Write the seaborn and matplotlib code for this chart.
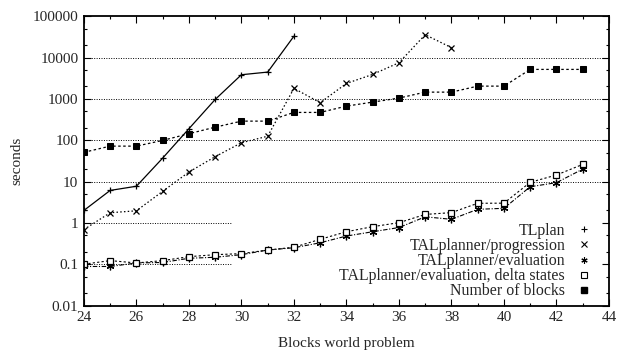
import numpy as np
import pandas as pd
import matplotlib
matplotlib.use('Agg')
import matplotlib.pyplot as plt
from matplotlib.lines import Line2D
from matplotlib.ticker import LogLocator, FixedLocator, MultipleLocator, NullFormatter
import seaborn as sns

# data
tlplan_x = [24, 25, 26, 27, 28, 29, 30, 31, 32]
tlplan_y = [2.0, 6.1, 7.7, 37, 190, 970, 3850, 4460, 33000]

prog_x = list(range(24, 39))
prog_y = [0.69, 1.76, 1.96, 5.8, 17, 40, 87, 125, 1800, 810, 2370, 3920, 7520, 35800, 17400]

eval_x = list(range(24, 44))
eval_y = [0.088, 0.088, 0.107, 0.11, 0.139, 0.147, 0.17, 0.22, 0.25, 0.33,
          0.48, 0.61, 0.77, 1.4, 1.22, 2.13, 2.25, 7.5, 9.4, 20]

delta_x = list(range(24, 44))
delta_y = [0.1, 0.122, 0.107, 0.122, 0.152, 0.17, 0.18, 0.22, 0.257, 0.40,
           0.61, 0.81, 1.01, 1.6, 1.77, 2.98, 3.0, 9.6, 14.4, 26]

blocks_x = list(range(24, 44))
blocks_y = [51, 72, 72, 99, 144, 207, 290, 290, 471, 471,
            670, 837, 1047, 1460, 1460, 2040, 2040, 5180, 5180, 5180]

labels = ['TLplan', 'TALplanner/progression', 'TALplanner/evaluation',
          'TALplanner/evaluation, delta states', 'Number of blocks']

sns.set_style('ticks')
plt.rcParams['font.family'] = ['Liberation Serif', 'DejaVu Serif']

fig = plt.figure(figsize=(6.17, 3.54), dpi=100)
ax = fig.add_axes([0.136, 0.137, 0.851, 0.817])

# grid lines (partly hidden by the key in the original)
for v in [10, 100, 1000, 10000]:
    ax.hlines(v, 24, 44, colors='black', linestyles=(0, (1, 1.5)), linewidth=0.7)
for v in [0.1, 1]:
    ax.hlines(v, 24, 29.6, colors='black', linestyles=(0, (1, 1.5)), linewidth=0.7)

asterisk = (6, 2, 0)

sns.lineplot(x=tlplan_x, y=tlplan_y, ax=ax, color='black', linewidth=0.9,
             linestyle='-', marker='+', markersize=5, markeredgecolor='black', markeredgewidth=0.9)
sns.lineplot(x=prog_x, y=prog_y, ax=ax, color='black', linewidth=0.9,
             linestyle=(0, (1.2, 1.8)), marker='x', markersize=4.5, markeredgecolor='black',
             markeredgewidth=0.9)
sns.lineplot(x=eval_x, y=eval_y, ax=ax, color='black', linewidth=0.8,
             linestyle=(0, (4, 1.5, 1, 1.5)), marker=asterisk, markersize=5.5,
             markeredgecolor='black', markeredgewidth=0.9)
sns.lineplot(x=delta_x, y=delta_y, ax=ax, color='black', linewidth=0.8,
             linestyle=(0, (2, 2)), marker='s', markersize=4, markerfacecolor='white',
             markeredgecolor='black', markeredgewidth=0.9)
sns.lineplot(x=blocks_x, y=blocks_y, ax=ax, color='black', linewidth=0.9,
             linestyle=(0, (2, 2)), marker='s', markersize=4.8, markerfacecolor='black',
             markeredgecolor='black')

ax.set_yscale('log')
ax.set_xlim(24, 44)
ax.set_ylim(0.01, 100000)
ax.xaxis.set_major_locator(MultipleLocator(2))
ax.xaxis.set_minor_locator(MultipleLocator(1))
ax.yaxis.set_major_locator(FixedLocator([0.01, 0.1, 1, 10, 100, 1000, 10000, 100000]))
ax.yaxis.set_minor_locator(LogLocator(base=10, subs=[2, 5], numticks=20))
ax.yaxis.set_minor_formatter(NullFormatter())
ax.set_yticklabels(['0.01', '0.1', '1', '10', '100', '1000', '10000', '100000'])

ax.tick_params(which='both', direction='in', top=True, right=True, labelsize=11, color='black')
ax.tick_params(which='major', length=5, width=0.8, pad=4)
ax.tick_params(which='minor', length=2.5, width=0.8)
for s in ax.spines.values():
    s.set_linewidth(1.3)
    s.set_color('black')

ax.set_xlabel('Blocks world problem', fontsize=11, labelpad=9)
ax.set_ylabel('seconds', fontsize=11, labelpad=7)

handles = [
    Line2D([], [], color='black', linestyle='none', marker='+', markersize=4.5, markeredgewidth=0.8),
    Line2D([], [], color='black', linestyle='none', marker='x', markersize=4, markeredgewidth=0.8),
    Line2D([], [], color='black', linestyle='none', marker=asterisk, markersize=4.5, markeredgewidth=0.8),
    Line2D([], [], color='black', linestyle='none', marker='s', markersize=4, markerfacecolor='white',
           markeredgewidth=0.8),
    Line2D([], [], color='black', linestyle='none', marker='s', markersize=4.8),
]
leg = ax.legend(handles, labels, loc='lower right', bbox_to_anchor=(0.986, -0.012),
                frameon=False, markerfirst=False, fontsize=11.4, handlelength=1.0,
                handletextpad=0.7, labelspacing=-0.05, borderaxespad=0.2)
for t in leg.get_texts():
    t.set_ha('right')
leg._legend_box.align = 'right'

fig.savefig('out.png', dpi=100)
